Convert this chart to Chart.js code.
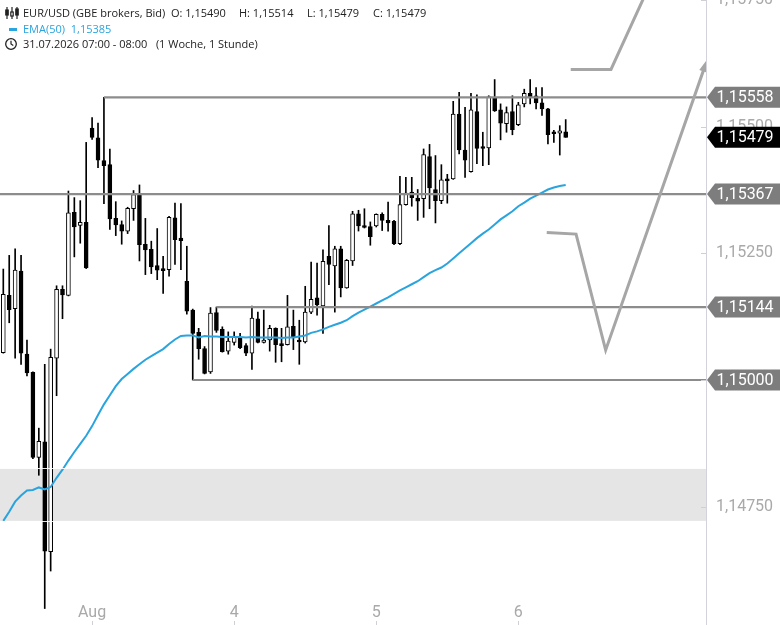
<!DOCTYPE html>
<html>
<head>
<meta charset="utf-8">
<script src="https://cdn.jsdelivr.net/npm/chart.js@4.4.1/dist/chart.umd.min.js"></script>
<style>
html,body{margin:0;padding:0;background:#fff;}
#wrap{position:relative;width:780px;height:625px;overflow:hidden;background:#fff;}
#c{position:absolute;left:0;top:0;}
.t{position:absolute;font-family:'Open Sans',sans-serif;font-size:11px;line-height:14px;color:#222;white-space:pre;}
.b{color:#2aa4de;}
</style>
</head>
<body>
<div id="wrap">
<canvas id="c" width="780" height="625"></canvas>
<svg style="position:absolute;left:5px;top:6px" width="14" height="14" viewBox="0 0 14 14">
  <g stroke="#222" stroke-width="1.2" fill="none">
    <line x1="2" y1="1" x2="2" y2="13"/><rect x="0.8" y="4" width="2.4" height="5" fill="#222"/>
    <line x1="7" y1="1" x2="7" y2="13"/><rect x="5.8" y="6" width="2.4" height="4" fill="#fff"/>
    <line x1="12" y1="1" x2="12" y2="13"/><rect x="10.8" y="3" width="2.4" height="6" fill="#222"/>
  </g>
</svg>
<div class="t" style="left:23px;top:6px">EUR/USD (GBE brokers, Bid)</div>
<div class="t" style="left:171px;top:6px">O: 1,15490</div>
<div class="t" style="left:239px;top:6px">H: 1,15514</div>
<div class="t" style="left:307px;top:6px">L: 1,15479</div>
<div class="t" style="left:373px;top:6px">C: 1,15479</div>
<div style="position:absolute;left:9px;top:28px;width:8px;height:3px;background:#2aa4de"></div>
<div class="t b" style="left:23px;top:22px">EMA(50)  1,15385</div>
<svg style="position:absolute;left:4px;top:37px" width="14" height="14" viewBox="0 0 14 14">
  <circle cx="7" cy="7" r="5.3" stroke="#222" stroke-width="1.3" fill="none"/>
  <path d="M7 3.8 V7 L9.3 8.6" stroke="#222" stroke-width="1.2" fill="none"/>
</svg>
<div class="t" style="left:23px;top:37px">31.07.2026 07:00 - 08:00   (1 Woche, 1 Stunde)</div>
</div>
<script>
// ---- data (EUR/USD, 1h candles) ----
const openP = [1.15054,1.15167,1.15141,1.15215,1.15051,1.15015,1.14847,1.14878,1.14661,1.15043,
1.15179,1.15167,1.15331,1.15305,1.15311,1.15497,1.15478,1.15433,1.15425,1.15319,
1.15307,1.15294,1.15338,1.15366,1.15268,1.15258,1.15226,1.15219,1.15218,1.15320,
1.15280,1.15195,1.15138,1.15094,1.15062,1.15016,1.15133,1.15100,1.15057,1.15074,
1.15084,1.15068,1.15053,1.15121,1.15074,1.15079,1.15102,1.15072,1.15070,1.15106,
1.15079,1.15075,1.15134,1.15162,1.15146,1.15244,1.15225,1.15259,1.15182,1.15235,
1.15328,1.15305,1.15303,1.15304,1.15327,1.15315,1.15313,1.15269,1.15346,1.15371,
1.15359,1.15358,1.15441,1.15376,1.15354,1.15394,1.15397,1.15525,1.15454,1.15411,
1.15530,1.15458,1.15458,1.15558,1.15533,1.15506,1.15530,1.15504,1.15545,1.15566,
1.15561,1.15547,1.15535,1.15489,1.15487,1.15490];
const highP = [1.15219,1.15246,1.15259,1.15246,1.15079,1.15016,1.14905,1.15031,1.15061,1.15186,
1.15186,1.15373,1.15360,1.15354,1.15469,1.15518,1.15507,1.15558,1.15456,1.15352,
1.15314,1.15341,1.15374,1.15385,1.15319,1.15274,1.15299,1.15244,1.15323,1.15349,
1.15348,1.15264,1.15140,1.15102,1.15066,1.15143,1.15144,1.15105,1.15095,1.15095,
1.15092,1.15072,1.15146,1.15134,1.15138,1.15108,1.15103,1.15102,1.15167,1.15138,
1.15118,1.15185,1.15233,1.15231,1.15257,1.15305,1.15264,1.15264,1.15238,1.15333,
1.15335,1.15338,1.15312,1.15328,1.15330,1.15351,1.15315,1.15402,1.15400,1.15400,
1.15376,1.15456,1.15465,1.15443,1.15425,1.15406,1.15550,1.15568,1.15538,1.15566,
1.15563,1.15489,1.15561,1.15593,1.15545,1.15539,1.15561,1.15548,1.15574,1.15593,
1.15577,1.15577,1.15536,1.15493,1.15502,1.15514];
const lowP = [1.15053,1.15113,1.15043,1.15031,1.15008,1.14845,1.14812,1.14549,1.14623,1.14969,
1.15121,1.15166,1.15243,1.15270,1.15220,1.15475,1.15419,1.15348,1.15297,1.15285,
1.15268,1.15289,1.15315,1.15235,1.15208,1.15210,1.15198,1.15171,1.15205,1.15228,
1.15218,1.15130,1.15000,1.15041,1.15012,1.15013,1.15094,1.15055,1.15051,1.15069,
1.15062,1.15048,1.15021,1.15073,1.15073,1.15057,1.15035,1.15036,1.15069,1.15060,
1.15031,1.15073,1.15131,1.15128,1.15092,1.15188,1.15134,1.15164,1.15181,1.15226,
1.15294,1.15300,1.15266,1.15302,1.15295,1.15294,1.15267,1.15267,1.15345,1.15343,
1.15315,1.15321,1.15338,1.15310,1.15348,1.15349,1.15396,1.15446,1.15400,1.15410,
1.15427,1.15423,1.15425,1.15530,1.15474,1.15489,1.15484,1.15502,1.15539,1.15545,
1.15535,1.15522,1.15466,1.15469,1.15444,1.15479];
const closeP = [1.15169,1.15139,1.15217,1.15053,1.15014,1.14847,1.14879,1.14662,1.15045,1.15179,
1.15168,1.15330,1.15302,1.15311,1.15221,1.15479,1.15434,1.15423,1.15318,1.15306,
1.15294,1.15339,1.15366,1.15267,1.15257,1.15223,1.15217,1.15216,1.15321,1.15277,
1.15275,1.15136,1.15092,1.15062,1.15013,1.15132,1.15098,1.15056,1.15077,1.15085,
1.15064,1.15053,1.15122,1.15074,1.15079,1.15102,1.15070,1.15068,1.15105,1.15083,
1.15075,1.15134,1.15159,1.15148,1.15234,1.15228,1.15259,1.15182,1.15236,1.15328,
1.15304,1.15301,1.15283,1.15327,1.15315,1.15310,1.15269,1.15346,1.15369,1.15360,
1.15353,1.15445,1.15379,1.15354,1.15395,1.15393,1.15525,1.15454,1.15434,1.15533,
1.15457,1.15457,1.15559,1.15531,1.15507,1.15528,1.15494,1.15543,1.15566,1.15559,
1.15547,1.15535,1.15484,1.15486,1.15492,1.15479];
const ema50 = [1.14722,1.14740,1.14760,1.14772,1.14782,1.14783,1.14788,1.14784,1.14789,1.14807,
1.14823,1.14841,1.14858,1.14874,1.14890,1.14909,1.14931,1.14952,1.14970,1.14988,
1.15002,1.15012,1.15022,1.15031,1.15040,1.15047,1.15054,1.15061,1.15071,1.15080,
1.15087,1.15088,1.15088,1.15084,1.15087,1.15086,1.15086,1.15085,1.15085,1.15085,
1.15085,1.15084,1.15085,1.15084,1.15084,1.15084,1.15084,1.15083,1.15084,1.15084,
1.15086,1.15088,1.15093,1.15096,1.15100,1.15105,1.15109,1.15113,1.15118,1.15126,
1.15133,1.15139,1.15145,1.15151,1.15157,1.15163,1.15170,1.15177,1.15183,1.15189,
1.15195,1.15203,1.15211,1.15217,1.15222,1.15230,1.15240,1.15250,1.15260,1.15270,
1.15280,1.15289,1.15297,1.15307,1.15317,1.15325,1.15333,1.15343,1.15350,1.15358,
1.15364,1.15370,1.15376,1.15380,1.15383,1.15385];

const xTickIdx = [15, 39, 63, 87];
const xTickLabels = ['Aug', '4', '5', '6'];
const yTicks = [1.14750, 1.15000, 1.15250, 1.15500, 1.15750];

// horizontal levels (price, candle index where the line starts; null = left edge)
const levelPrices = [1.15558, 1.15367, 1.15144, 1.15000];
const levelStart = [17, null, 36, 32];
const lastPrice = 1.15479;
const zoneBand = [1.14722, 1.14826];
// projection sketch, points as [candle index, price]
const pathA = [[95.85, 1.15613], [102.65, 1.15613], [108.8, 1.15770]];
const pathB = [[91.8, 1.15291], [96.75, 1.15288], [101.75, 1.15059], [118.6, 1.15622]];

const fmt = v => v.toFixed(5).replace('.', ',');
const idx = openP.map((_, i) => i);

const overlay = {
  id: 'overlay',
  beforeDatasetsDraw(chart) {
    const {ctx, chartArea: a, scales: {y}} = chart;
    ctx.save();
    const t = y.getPixelForValue(zoneBand[1]), b = y.getPixelForValue(zoneBand[0]);
    ctx.fillStyle = '#e5e5e5';
    ctx.fillRect(a.left, t, a.right - a.left, b - t);
    ctx.restore();
  },
  afterDatasetsDraw(chart) {
    const {ctx, chartArea: a, scales: {x, y}} = chart;
    ctx.save();
    ctx.beginPath(); ctx.rect(a.left, a.top, a.right - a.left, a.bottom - a.top); ctx.clip();
    // zone edges
    ctx.strokeStyle = 'rgba(255,255,255,0.9)'; ctx.lineWidth = 1;
    zoneBand.forEach(p => { const yy = Math.round(y.getPixelForValue(p)) + 0.5;
      ctx.beginPath(); ctx.moveTo(a.left, yy); ctx.lineTo(a.right, yy); ctx.stroke(); });
    // levels
    ctx.strokeStyle = '#8c8c8c'; ctx.lineWidth = 2.2;
    levelPrices.forEach((p, k) => {
      const yy = y.getPixelForValue(p);
      const x0 = levelStart[k] === null ? a.left : x.getPixelForValue(levelStart[k]);
      ctx.beginPath(); ctx.moveTo(x0, yy); ctx.lineTo(a.right, yy); ctx.stroke();
    });
    // projection paths
    ctx.strokeStyle = '#a6a6a6'; ctx.lineWidth = 3; ctx.lineJoin = 'miter'; ctx.lineCap = 'butt';
    [pathA, pathB].forEach(pts => {
      ctx.beginPath();
      pts.forEach((q, j) => { const px = x.getPixelForValue(q[0]), py = y.getPixelForValue(q[1]);
        j ? ctx.lineTo(px, py) : ctx.moveTo(px, py); });
      ctx.stroke();
    });
    // arrow head at end of pathB
    const e = pathB[pathB.length - 1], s = pathB[pathB.length - 2];
    const ex = x.getPixelForValue(e[0]), ey = y.getPixelForValue(e[1]);
    const sx = x.getPixelForValue(s[0]), sy = y.getPixelForValue(s[1]);
    const ang = Math.atan2(ey - sy, ex - sx);
    ctx.fillStyle = '#a6a6a6';
    ctx.beginPath();
    ctx.moveTo(ex + 6 * Math.cos(ang), ey + 6 * Math.sin(ang));
    ctx.lineTo(ex + 8 * Math.cos(ang + 2.6), ey + 8 * Math.sin(ang + 2.6));
    ctx.lineTo(ex + 8 * Math.cos(ang - 2.6), ey + 8 * Math.sin(ang - 2.6));
    ctx.closePath(); ctx.fill();
    ctx.restore();
  },
  afterDraw(chart) {
    const {ctx, chartArea: a, scales: {x, y}} = chart;
    ctx.save();
    // small tick marks
    ctx.strokeStyle = '#cfcfd6'; ctx.lineWidth = 1;
    yTicks.forEach(v => { const yy = Math.round(y.getPixelForValue(v)) + 0.5;
      ctx.beginPath(); ctx.moveTo(a.right - 5, yy); ctx.lineTo(a.right, yy); ctx.stroke(); });
    xTickIdx.forEach(v => { const xx = Math.round(x.getPixelForValue(v)) + 0.5;
      ctx.beginPath(); ctx.moveTo(xx, a.bottom - 4); ctx.lineTo(xx, a.bottom); ctx.stroke(); });
    // price tags
    const tag = (p, fill) => {
      const cy = y.getPixelForValue(p), L = y.left + 1, h = 10.5;
      ctx.fillStyle = fill;
      ctx.beginPath(); ctx.moveTo(L, cy); ctx.lineTo(L + 8, cy - h); ctx.lineTo(780, cy - h);
      ctx.lineTo(780, cy + h); ctx.lineTo(L + 8, cy + h); ctx.closePath(); ctx.fill();
      ctx.fillStyle = '#fff'; ctx.font = '16px Roboto'; ctx.textBaseline = 'middle'; ctx.textAlign = 'left';
      ctx.fillText(fmt(p), L + 9.5, cy + 0.5);
    };
    levelPrices.forEach(p => tag(p, '#7d7d7d'));
    tag(lastPrice, '#000');
    ctx.restore();
  }
};

Chart.defaults.font.family = 'Roboto';
new Chart(document.getElementById('c'), {
  type: 'bar',
  data: {
    datasets: [
      { type: 'line', data: idx.map(i => ({x: i, y: ema50[i]})), borderColor: '#2aa4de', borderWidth: 2,
        pointRadius: 0, tension: 0, fill: false, order: 0 },
      { data: idx.map(i => ({x: i, y: [openP[i], closeP[i]]})), grouped: false, barThickness: 4,
        backgroundColor: idx.map(i => closeP[i] > openP[i] ? '#ffffff' : '#000000'),
        borderColor: '#000', borderWidth: 1, borderSkipped: false, minBarLength: 2, order: 1 },
      { data: idx.map(i => ({x: i, y: [lowP[i], highP[i]]})), grouped: false, barThickness: 1,
        backgroundColor: '#000', borderWidth: 0, order: 2 }
    ]
  },
  options: {
    responsive: false, animation: false,
    layout: { padding: 0 },
    plugins: { legend: { display: false }, tooltip: { enabled: false } },
    scales: {
      x: {
        type: 'linear', min: -0.557, max: 118.7, offset: false,
        grid: { display: false, drawTicks: false }, border: { display: false },
        afterFit: s => { s.height = 0; s.paddingLeft = 0; s.paddingRight = 0; s.paddingTop = 0; s.paddingBottom = 0; },
        afterBuildTicks: s => { s.ticks = xTickIdx.map(v => ({value: v})); },
        ticks: { mirror: true, padding: 2, color: '#a9a9a9', font: { size: 16 }, maxRotation: 0, minRotation: 0,
          autoSkip: false, callback: (v, i) => xTickLabels[i] }
      },
      y: {
        position: 'right', min: 1.145165, max: 1.1575,
        grid: { display: false, drawTicks: false }, border: { display: true, color: '#d2d2da', width: 1 },
        afterFit: s => { s.width = 74; s.paddingTop = 0; s.paddingBottom = 0; s.paddingLeft = 0; s.paddingRight = 0; },
        afterBuildTicks: s => { s.ticks = yTicks.map(v => ({value: v})); },
        ticks: { padding: 10, color: '#a9a9a9', font: { size: 16 }, callback: v => fmt(v) }
      }
    }
  },
  plugins: [overlay]
});
</script>
</body>
</html>
